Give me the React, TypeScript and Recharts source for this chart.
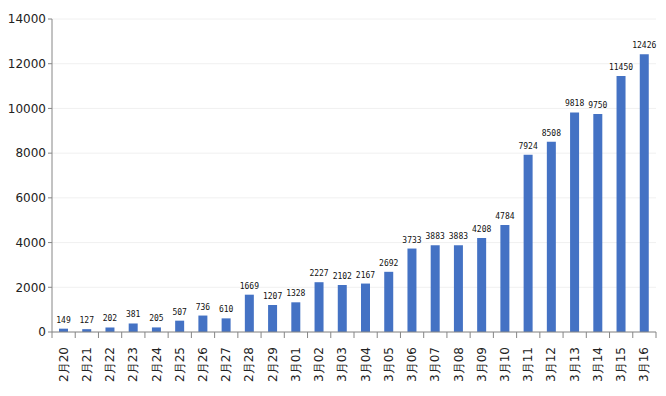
import React from 'react';
import { BarChart, Bar, XAxis, YAxis, CartesianGrid, LabelList } from 'recharts';

const dates = [
  '2月20', '2月21', '2月22', '2月23', '2月24', '2月25', '2月26', '2月27', '2月28', '2月29',
  '3月01', '3月02', '3月03', '3月04', '3月05', '3月06', '3月07', '3月08', '3月09', '3月10',
  '3月11', '3月12', '3月13', '3月14', '3月15', '3月16',
];
const counts = [
  149, 127, 202, 381, 205, 507, 736, 610, 1669, 1207,
  1328, 2227, 2102, 2167, 2692, 3733, 3883, 3883, 4208, 4784,
  7924, 8508, 9818, 9750, 11450, 12426,
];
const yTicks = [0, 2000, 4000, 6000, 8000, 10000, 12000, 14000];

const data = dates.map((d, i) => ({ date: d, value: counts[i] }));

const axisGray = '#868686';

function DateTick(props: any) {
  const { x, y, payload, width, visibleTicksCount } = props;
  const half = width / visibleTicksCount / 2;
  return (
    <g>
      <line x1={x - half} y1={y - 8} x2={x - half} y2={y - 2} stroke={axisGray} />
      {payload.index === visibleTicksCount - 1 && (
        <line x1={x + half} y1={y - 8} x2={x + half} y2={y - 2} stroke={axisGray} />
      )}
      <text
        x={0}
        y={0}
        transform={`translate(${x + 4},${y + 7}) rotate(-90)`}
        textAnchor="end"
        fontSize={12}
        fill="#222"
        fontFamily="DejaVu Sans, sans-serif"
      >
        {payload.value}
      </text>
    </g>
  );
}

export default function App() {
  return (
    <div style={{ position: 'absolute', left: 0, top: 0, background: '#fff' }}>
      <BarChart
        width={666}
        height={396}
        data={data}
        margin={{ top: 19, right: 10, left: 0, bottom: 0 }}
        barCategoryGap={0}
      >
        <CartesianGrid vertical={false} stroke="#f0f0f0" />
        <XAxis
          dataKey="date"
          interval={0}
          height={64}
          tickLine={false}
          stroke={axisGray}
          tick={<DateTick />}
        />
        <YAxis
          domain={[0, 14000]}
          ticks={yTicks}
          width={52}
          stroke={axisGray}
          tickSize={4}
          tick={{ fontSize: 12, fill: '#222', fontFamily: 'DejaVu Sans, sans-serif' }}
        />
        <Bar dataKey="value" fill="#4472C4" barSize={9} isAnimationActive={false}>
          <LabelList
            dataKey="value"
            position="top"
            offset={6}
            style={{ fontSize: 8, fill: '#111', fontFamily: 'DejaVu Sans Mono, monospace' }}
          />
        </Bar>
      </BarChart>
    </div>
  );
}
